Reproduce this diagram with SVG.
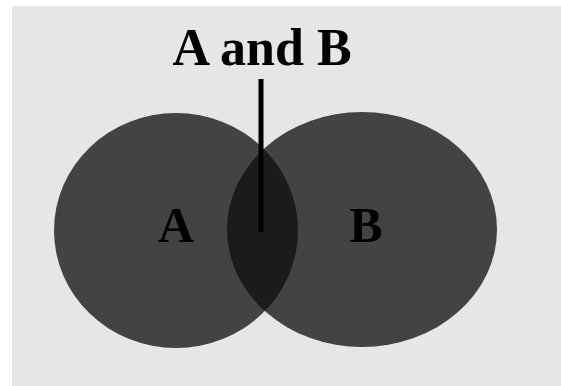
<svg xmlns="http://www.w3.org/2000/svg" width="561" height="386" viewBox="0 0 561 386">
<style>
.set{fill:#434343}
.lens{fill:#1b1b1b}
.lbl{font-family:"Liberation Serif","Times New Roman",serif;font-weight:bold;fill:#000;text-anchor:middle}
.conn{stroke:#000;stroke-width:5;fill:none}
</style>
<defs>
<clipPath id="clipA"><ellipse cx="176" cy="230.5" rx="122" ry="117.5"/></clipPath>
</defs>
<rect x="0" y="0" width="561" height="386" fill="#ffffff"/>
<rect x="12" y="6" width="549" height="380" fill="#e6e6e6"/>
<g id="setA">
<ellipse class="set" cx="176" cy="230.5" rx="122" ry="117.5"/>
</g>
<g id="setB">
<ellipse class="set" cx="362" cy="229.5" rx="135" ry="117.5"/>
</g>
<g id="intersection">
<ellipse class="lens" cx="362" cy="229.5" rx="135" ry="117.5" clip-path="url(#clipA)"/>
</g>
<g id="labelAB">
<text class="lbl" x="262" y="65" font-size="52">A and B</text>
</g>
<g id="connectors">
<line class="conn" x1="261" y1="79" x2="261" y2="232"/>
</g>
<g id="labelA">
<text class="lbl" x="176" y="242" font-size="50">A</text>
</g>
<g id="labelB">
<text class="lbl" x="366" y="242" font-size="50">B</text>
</g>
</svg>
